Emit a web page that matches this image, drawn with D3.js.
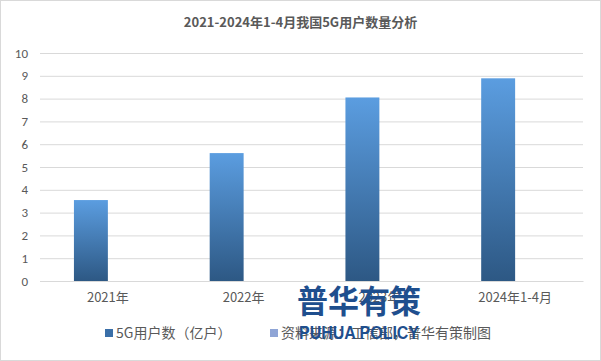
<!DOCTYPE html>
<html>
<head>
<meta charset="utf-8">
<script src="https://cdn.jsdelivr.net/npm/d3@7"></script>
<style>
  body { margin: 0; background: #fff; }
  svg { display: block; }
  text { font-family: "Noto Sans CJK SC", "Microsoft YaHei", sans-serif; fill: #595959; }
</style>
</head>
<body>
<script>
// chart data
var title = '2021-2024年1-4月我国5G用户数量分析'
var categories = ['2021年', '2022年', '2023年', '2024年1-4月']
var users = [3.55, 5.61, 8.05, 8.89]
var source = [0, 0, 0, 0]
var seriesNames = ['5G用户数（亿户）', '资料来源：工信部，普华有策制图']
var yTicks = [0, 1, 2, 3, 4, 5, 6, 7, 8, 9, 10]

var W = 601, H = 361
var margin = {top: 53, right: 18, bottom: 80, left: 40}
var width = W - margin.left - margin.right,
    height = H - margin.top - margin.bottom

var svg = d3.select('body').append('svg')
  .attr('width', W).attr('height', H)

// outer border
svg.append('rect')
  .attr('x', 0.5).attr('y', 0.5)
  .attr('width', W - 1).attr('height', H - 1)
  .attr('fill', '#fff').attr('stroke', '#d9d9d9')

var defs = svg.append('defs')
var grad = defs.append('linearGradient')
  .attr('id', 'barGrad').attr('x1', 0).attr('y1', 0).attr('x2', 0).attr('y2', 1)
grad.append('stop').attr('offset', '0%').attr('stop-color', '#5b9de0')
grad.append('stop').attr('offset', '100%').attr('stop-color', '#2d5884')

svg.append('text')
  .attr('x', W / 2).attr('y', 27)
  .attr('text-anchor', 'middle')
  .attr('font-size', 13).attr('font-weight', 'bold')
  .text(title)

var g = svg.append('g')
  .attr('transform', 'translate(' + margin.left + ',' + margin.top + ')')

var x0 = d3.scaleBand().domain(categories).range([0, width]).paddingInner(0.5).paddingOuter(0.25)
var x1 = d3.scaleBand().domain(seriesNames).range([0, x0.bandwidth()])
var y = d3.scaleLinear().domain([0, 10]).range([height, 0])

// grid
var yAxis = d3.axisLeft(y).tickValues(yTicks).tickSize(-width).tickPadding(12)
var ya = g.append('g').call(yAxis)
ya.select('.domain').remove()
ya.selectAll('line').attr('stroke', '#d9d9d9')
ya.selectAll('text').attr('font-size', 13).attr('fill', '#595959')
  .style('font-family', 'Calibri, "Liberation Sans", "Noto Sans", sans-serif')

var bars = g.append('g')
bars.selectAll('rect').data(users).enter().append('rect')
  .attr('x', function(d, i) { return x0(categories[i]) + x1(seriesNames[0]) })
  .attr('y', function(d) { return y(d) })
  .attr('width', x1.bandwidth())
  .attr('height', function(d) { return height - y(d) })
  .attr('fill', 'url(#barGrad)')

bars.selectAll('rect.src').data(source).enter().append('rect')
  .attr('class', 'src')
  .attr('x', function(d, i) { return x0(categories[i]) + x1(seriesNames[1]) })
  .attr('y', function(d) { return y(d) })
  .attr('width', x1.bandwidth())
  .attr('height', function(d) { return height - y(d) })
  .attr('fill', '#8fa5d6')

var xAxis = d3.axisBottom(x0).tickSize(0).tickPadding(12)
var xa = g.append('g').attr('transform', 'translate(0,' + height + ')').call(xAxis)
xa.select('.domain').attr('stroke', '#d9d9d9')
xa.selectAll('text').attr('font-size', 13).attr('fill', '#595959')
  .style('font-family', '"Noto Sans CJK SC", sans-serif')

// legend
var legend = svg.append('g').attr('transform', 'translate(0,333)')
var legX = [105, 270]
var legCol = ['#3a6fa8', '#8fa5d6']
seriesNames.forEach(function(s, i) {
  legend.append('rect').attr('x', legX[i]).attr('y', -4).attr('width', 8).attr('height', 8).attr('fill', legCol[i])
  legend.append('text').attr('x', legX[i] + 11).attr('y', 0).attr('dy', '0.35em')
    .attr('font-size', 14).text(s)
})

// watermark
svg.append('text')
  .attr('x', 359).attr('y', 313)
  .attr('text-anchor', 'middle')
  .attr('font-size', 32).attr('font-weight', 'bold')
  .attr('textLength', 124).attr('lengthAdjust', 'spacingAndGlyphs')
  .style('fill', '#1f4f8e')
  .text('普华有策')
svg.append('text')
  .attr('x', 359).attr('y', 339)
  .attr('text-anchor', 'middle')
  .attr('font-size', 18).attr('font-weight', 'bold')
  .attr('textLength', 120).attr('lengthAdjust', 'spacingAndGlyphs')
  .style('font-family', '"Liberation Sans", Arial, sans-serif')
  .style('fill', '#1f4f8e')
  .text('PUHUA POLICY')
</script>
</body>
</html>
